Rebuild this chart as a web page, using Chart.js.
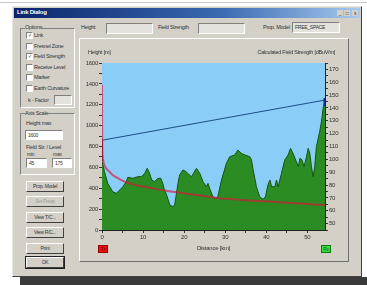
<!DOCTYPE html>
<html>
<head>
<meta charset="utf-8">
<script src="https://cdn.jsdelivr.net/npm/chart.js@4/dist/chart.umd.min.js"></script>
<style>
  body { margin: 0; width: 367px; height: 285px; background: #fff; position: relative; overflow: hidden;
         font-family: "Liberation Sans", Arial, sans-serif; font-size: 5.5px; color: #333; letter-spacing: -0.25px; }
  .abs { position: absolute; }
  .lbl { position: absolute; white-space: nowrap; line-height: 7px; }
  .box { position: absolute; background: #e4e2dc; border: 1px solid; border-color: #808080 #fff #fff #808080;
         box-sizing: border-box; line-height: 8px; padding-left: 2px; font-size: 5px; }
  .box.w { background: #fff; }
  .chk { position: absolute; width: 5px; height: 5px; background: #fff; border: 1px solid;
         border-color: #808080 #fff #fff #808080; font-size: 5px; line-height: 5px; text-align: center; }
  .grp { position: absolute; border: 1px solid; border-color: #808080 #fff #fff #808080; box-sizing: border-box; }
  .btn { position: absolute; width: 38px; height: 11px; background: #d4d0c8; box-sizing: border-box;
         border: 1px solid; border-color: #fff #404040 #404040 #fff; text-align: center; line-height: 9px; font-size: 5px; }
</style>
</head>
<body>
<div class="abs" style="left:0;top:2px;width:367px;height:1px;background:#c8c8c8"></div>
<!-- ombre -->
<div class="abs" style="left:20px;top:277px;width:347px;height:8px;background:#3a3a3a"></div>
<!-- boîte de dialogue -->
<div class="abs" style="left:12px;top:6px;width:350px;height:271px;background:#d4d0c8;box-sizing:border-box;border:1px solid;border-color:#e8e8e8 #404040 #404040 #e8e8e8"></div>
<div class="abs" style="left:14px;top:8px;width:346px;height:10px;background:linear-gradient(90deg,#0a246a,#3a6ab0 60%,#a6caf0)"></div>
<div class="lbl" style="left:17px;top:9px;color:#fff;font-weight:bold;font-size:6px">Link Dialog</div>
<div class="abs" style="left:337px;top:10px;width:6px;height:6px;background:#d4d0c8;font-size:5px;line-height:6px;text-align:center">_</div>
<div class="abs" style="left:344px;top:10px;width:6px;height:6px;background:#d4d0c8;font-size:5px;line-height:6px;text-align:center">□</div>
<div class="abs" style="left:352px;top:10px;width:6px;height:6px;background:#d4d0c8;font-size:5px;line-height:6px;text-align:center">x</div>

<!-- ligne du haut -->
<div class="lbl" style="left:81px;top:24px">Height</div>
<div class="box" style="left:106px;top:23px;width:47px;height:11px"></div>
<div class="lbl" style="left:158px;top:24px">Field Strength</div>
<div class="box" style="left:198px;top:23px;width:47px;height:11px"></div>
<div class="lbl" style="left:263px;top:24px">Prop. Model</div>
<div class="box" style="left:292px;top:22px;width:48px;height:11px">FREE_SPACE</div>

<!-- options -->
<div class="grp" style="left:20px;top:28px;width:55px;height:80px"></div>
<div class="lbl" style="left:25px;top:24px;background:#d4d0c8">Options</div>
<div class="chk" style="left:26px;top:32px">✓</div><div class="lbl" style="left:34px;top:32px">Link</div>
<div class="chk" style="left:26px;top:43px"></div><div class="lbl" style="left:34px;top:43px">Fresnel Zone</div>
<div class="chk" style="left:26px;top:53px">✓</div><div class="lbl" style="left:34px;top:53px">Field Strength</div>
<div class="chk" style="left:26px;top:64px"></div><div class="lbl" style="left:34px;top:64px">Receive Level</div>
<div class="chk" style="left:26px;top:74px"></div><div class="lbl" style="left:34px;top:74px">Marker</div>
<div class="chk" style="left:26px;top:85px"></div><div class="lbl" style="left:34px;top:85px">Earth Curvature</div>
<div class="lbl" style="left:28px;top:97px">k - Factor</div>
<div class="box" style="left:54px;top:95px;width:18px;height:10px"></div>

<!-- échelle des axes -->
<div class="grp" style="left:20px;top:113px;width:55px;height:62px"></div>
<div class="lbl" style="left:25px;top:110px;background:#d4d0c8">Axis Scale</div>
<div class="lbl" style="left:26px;top:120px">Height max</div>
<div class="box w" style="left:25px;top:130px;width:38px;height:10px">1600</div>
<div class="lbl" style="left:26px;top:144px">Field Str. / Level</div>
<div class="lbl" style="left:27px;top:151px;font-size:5px">min</div>
<div class="lbl" style="left:53px;top:151px;font-size:5px">max</div>
<div class="box w" style="left:26px;top:158px;width:21px;height:10px">45</div>
<div class="box w" style="left:52px;top:158px;width:20px;height:10px">175</div>

<!-- boutons -->
<div class="btn" style="left:26px;top:181px">Prop. Model</div>
<div class="btn" style="left:26px;top:196px;color:#a09c94">Set Freqs</div>
<div class="btn" style="left:26px;top:212px">View T/C...</div>
<div class="btn" style="left:26px;top:227px">View R/C...</div>
<div class="btn" style="left:26px;top:243px">Print</div>
<div class="btn" style="left:26px;top:257px;outline:1px solid #202020">OK</div>

<!-- panneau du graphique -->
<div class="abs" style="left:79px;top:38px;width:270px;height:224px;box-sizing:border-box;border:1px solid;border-color:#fff #707070 #707070 #fff"></div>
<canvas id="profile" class="abs" width="268" height="221" style="left:80px;top:39px"></canvas>
<div class="lbl" style="left:88px;top:49px">Height [m]</div>
<div class="lbl" style="right:32px;top:49px">Calculated Field Strength [dBuV/m]</div>
<div class="abs" style="left:98px;top:245px;width:10px;height:8px;background:#ee1010;border:1px solid #900;box-sizing:border-box;font-size:5px;line-height:6px;text-align:center;color:#600">Tx</div>
<div class="abs" style="left:321px;top:245px;width:10px;height:8px;background:#3ade3a;border:1px solid #0a7a0a;box-sizing:border-box;font-size:5px;line-height:6px;text-align:center;color:#063">Rx</div>

<script>
// Profil de terrain (distance en km, altitude en m)
var terrainDist = [0, 0.6, 1.4, 2.6, 3.5, 4.3, 5.1, 5.9, 6.3, 7.5, 8.7, 9.6, 10.4, 11.0, 11.6, 12.1, 12.8, 13.6, 14.3, 14.8,
    15.2, 15.7, 16.5, 17.2, 17.7, 18.5, 18.9, 19.7, 20.5, 20.9, 21.8, 23.0, 23.8, 24.6, 25.4, 25.8, 26.2, 27.0, 27.7, 28.2,
    29.1, 30.3, 31.1, 32.3, 33.1, 33.9, 34.8, 36.0, 36.4, 36.8, 37.6, 38.4, 39.2, 39.8, 40.4, 40.9, 41.3, 42.1, 42.5, 42.9,
    43.7, 44.5, 45.3, 45.9, 46.5, 47.0, 47.8, 48.2, 48.7, 49.2, 49.8, 50.2, 50.6, 51.0, 51.4, 51.8, 52.2, 53.0, 53.5, 53.9, 54.3];
var terrainHeight = [660, 560, 447, 367, 351, 383, 415, 463, 505, 495, 511, 511, 543, 591, 543, 479, 463, 495, 495, 447,
    383, 340, 240, 225, 240, 447, 527, 575, 559, 540, 511, 591, 543, 463, 415, 447, 399, 319, 303, 319,
    479, 639, 702, 718, 766, 735, 718, 702, 671, 575, 415, 319, 294, 319, 431, 479, 415, 415, 479, 415,
    543, 671, 718, 782, 735, 687, 607, 687, 671, 607, 702, 782, 735, 607, 511, 607, 798, 942, 1054, 1181, 1245];

// Champ calculé (dBuV/m)
var fieldDist = [0, 0.1, 0.5, 1, 1.8, 2.7, 3.8, 5.5, 7.5, 10, 12.5, 15, 17.7, 20, 23, 25.7, 28.5, 32, 36, 40, 45, 50, 54.3];
var fieldValue = [158, 104, 96, 93, 90.4, 87.5, 85.5, 82.6, 80.5, 78.8, 77.2, 75.9, 74.6, 73.6, 72.2, 71, 69.8, 68.9, 68, 67.3, 66.3, 65.3, 64.5];

// Ligne de visée Tx -> Rx
var losDist = [0, 54.3];
var losHeight = [860, 1245];

// Antennes
var txMast = [660, 870];
var rxMast = [1190, 1265];

// Graduations
var distTicks = [0, 5, 10, 15, 20, 25, 30, 35, 40, 45, 50];
var distLabels = [0, 10, 20, 30, 40, 50];
var heightTicks = [0, 100, 200, 300, 400, 500, 600, 700, 800, 900, 1000, 1100, 1200, 1300, 1400, 1500, 1600];
var heightLabels = [0, 200, 400, 600, 800, 1000, 1200, 1400, 1600];
var fieldTicks = [45, 50, 55, 60, 65, 70, 75, 80, 85, 90, 95, 100, 105, 110, 115, 120, 125, 130, 135, 140, 145, 150, 155, 160, 165, 170, 175];
var fieldLabels = [50, 60, 70, 80, 90, 100, 110, 120, 130, 140, 150, 160, 170];

function pts(xs, ys) {
    return xs.map((x, i) => ({ x: x, y: ys[i] }));
}

// fond bleu ciel de la zone de tracé
var skyBg = {
    id: 'skyBg',
    beforeDatasetsDraw(chart) {
        var a = chart.chartArea, c = chart.ctx;
        c.save();
        c.fillStyle = '#8acdf7';
        c.fillRect(a.left, a.top, a.right - a.left, a.bottom - a.top);
        c.restore();
    }
};

var tickFont = { family: 'Liberation Sans', size: 6 };
function axisCommon(ticks, labels) {
    return {
        afterBuildTicks: s => { s.ticks = ticks.map(v => ({ value: v })); },
        ticks: {
            font: tickFont, color: '#333', padding: 1, autoSkip: false, maxRotation: 0,
            callback: v => labels.includes(v) ? String(v) : ''
        },
        grid: { drawOnChartArea: false, tickLength: 3, color: '#333' },
        border: { color: '#222' }
    };
}

var xAxis = axisCommon(distTicks, distLabels);
Object.assign(xAxis, {
    type: 'linear', position: 'bottom', min: 0, max: 54.3,
    title: { display: true, text: 'Distance [km]', font: tickFont, color: '#333', padding: 0 },
    afterFit: s => { s.height = 22; }
});
var yAxis = axisCommon(heightTicks, heightLabels);
Object.assign(yAxis, { position: 'left', min: 0, max: 1600, afterFit: s => { s.width = 22; } });
var y2Axis = axisCommon(fieldTicks, fieldLabels);
Object.assign(y2Axis, { position: 'right', min: 45, max: 175, afterFit: s => { s.width = 23; } });

new Chart(document.getElementById('profile').getContext('2d'), {
    type: 'line',
    data: {
        datasets: [
            {
                label: 'Field Strength', data: pts(fieldDist, fieldValue), yAxisID: 'y2', order: 0,
                borderColor: 'rgba(220,20,60,0.65)', borderWidth: 2, pointRadius: 0, tension: 0.2, fill: false
            },
            {
                label: 'Tx', data: pts([0, 0], txMast), yAxisID: 'y', order: 1,
                borderColor: '#3a1040', borderWidth: 2, pointRadius: 0, fill: false
            },
            {
                label: 'Rx', data: pts([54.3, 54.3], rxMast), yAxisID: 'y', order: 1,
                borderColor: '#12308a', borderWidth: 3, pointRadius: 0, fill: false
            },
            {
                label: 'Link', data: pts(losDist, losHeight), yAxisID: 'y', order: 2,
                borderColor: '#1d4c86', borderWidth: 1, pointRadius: 0, fill: false
            },
            {
                label: 'Terrain', data: pts(terrainDist, terrainHeight), yAxisID: 'y', order: 3,
                borderColor: '#15560f', borderWidth: 1, backgroundColor: '#2a8c22',
                pointRadius: 0, tension: 0, fill: 'origin'
            }
        ]
    },
    options: {
        responsive: false,
        animation: false,
        layout: { padding: { top: 24, bottom: 8, left: 0, right: 0 } },
        plugins: { legend: { display: false }, tooltip: { enabled: false } },
        scales: { x: xAxis, y: yAxis, y2: y2Axis }
    },
    plugins: [skyBg]
});
</script>
</body>
</html>
